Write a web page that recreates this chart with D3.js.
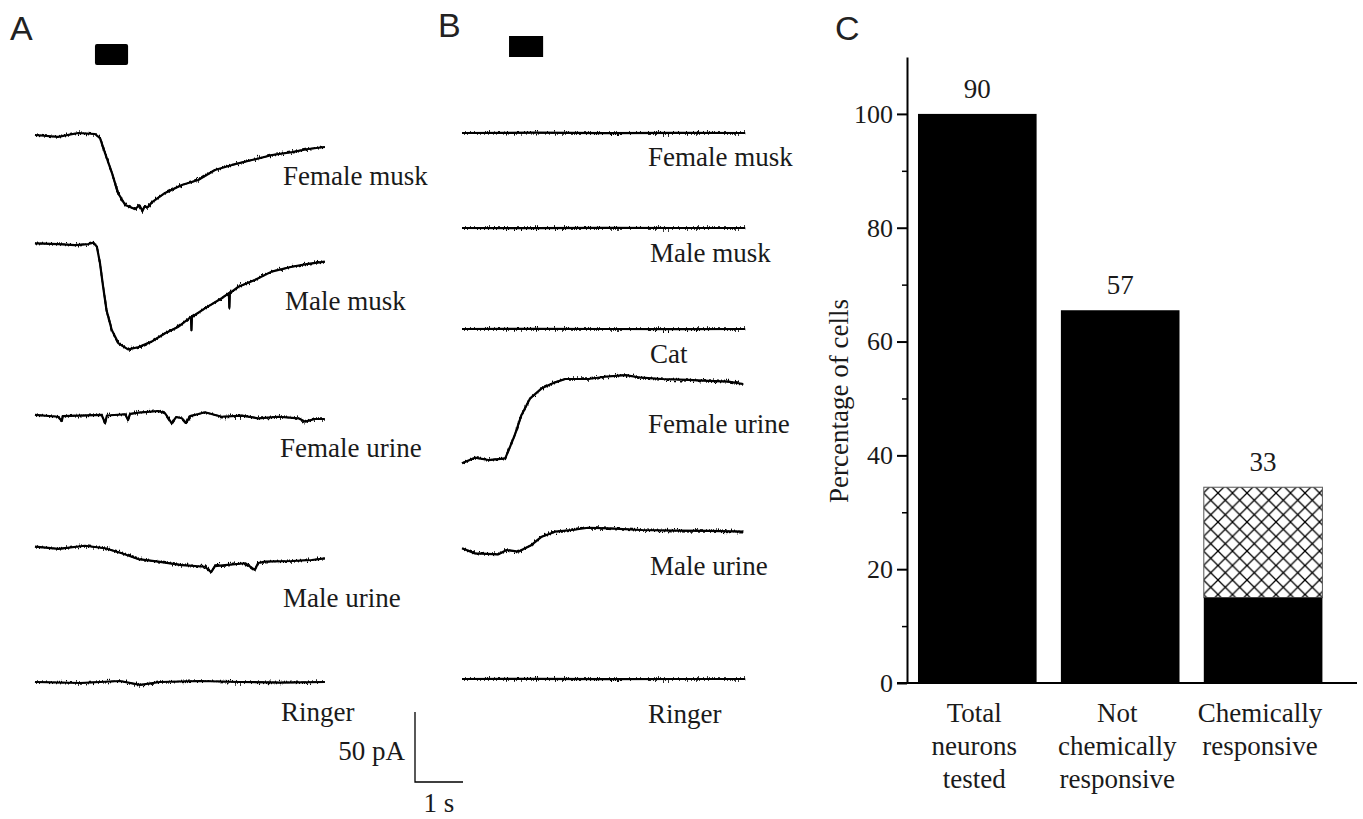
<!DOCTYPE html>
<html>
<head>
<meta charset="utf-8">
<script src="https://cdn.jsdelivr.net/npm/d3@7"></script>
<style>
  body { margin: 0; background: #fff; }
  text { font-family: "Liberation Serif", "Times New Roman", serif; fill: #1a1a1a; }
  .panel { font-family: "Liberation Sans", Arial, sans-serif; font-size: 34px; fill: #222; }
</style>
</head>
<body>
<svg id="fig" width="1363" height="819"></svg>
<script>
// ---- panel A traces: [time s, current pA] ----
var femaleMuskA = [[0.02,-0.7],[0.5,-2.1],[0.92,0.7],[1.27,0],[1.375,-2.9],[1.48,-13.6],[1.625,-27.9],[1.75,-42.1],[1.9,-50.7],[2.1,-53.6],[2.2,-51],[2.26,-55],[2.3,-52],[2.375,-52.1],[2.46,-48.6],[2.73,-42.1],[3.08,-36.4],[3.42,-32.9],[3.77,-25.7],[4.125,-22.1],[4.54,-18.6],[4.96,-15],[5.375,-12.9],[5.71,-10.7],[6.06,-9.3]];
var maleMuskA = [[0.02,0.1],[0.51,-0.4],[0.85,-1.1],[1.13,-0.4],[1.24,0.6],[1.31,-2.3],[1.375,-14.1],[1.44,-30.9],[1.51,-47.5],[1.62,-61.8],[1.76,-71.3],[1.96,-75.6],[2.17,-74.1],[2.45,-70.1],[2.73,-64.1],[3.01,-59.4],[3.27,-52.5],[3.28,-62],[3.29,-52.5],[3.56,-46.3],[3.91,-39.1],[4.06,-35.4],[4.07,-46],[4.08,-35.4],[4.26,-30.9],[4.6,-26.1],[4.95,-20.1],[5.37,-16.6],[5.71,-14.6],[6.06,-13]];
var femaleUrineA = [[0.02,0.4],[0.5,-0.9],[0.58,-3.9],[0.6,-0.4],[0.92,-0.1],[1.41,0.4],[1.48,-5.4],[1.52,0],[1.9,0.9],[1.96,-3.2],[2.0,1.1],[2.24,2.3],[2.59,3.2],[2.73,1.6],[2.87,-5.6],[2.96,-1.1],[3.08,-2.0],[3.17,-5.4],[3.25,-0.4],[3.35,0.4],[3.56,2.3],[3.91,-0.9],[4.33,-0.1],[4.67,-2.0],[5.09,-0.9],[5.51,-2.0],[5.65,-4.4],[5.85,-2.5],[6.06,-2.5]];
var maleUrineA = [[0.02,0.2],[0.51,-1.4],[1.06,0.9],[1.48,-0.9],[1.83,-4.5],[2.17,-8.6],[2.59,-10.5],[3.08,-12.9],[3.56,-14.1],[3.69,-17.9],[3.77,-13.6],[3.98,-12.9],[4.4,-11.6],[4.6,-16.4],[4.67,-11.4],[4.81,-10.5],[5.37,-10],[5.79,-9.3],[6.06,-8.1]];
var ringerA = [[0.02,0],[0.96,-0.7],[1.79,0.7],[2.21,-2.1],[2.625,0],[3.46,0.7],[4.29,0],[5.125,-0.4],[6.06,0]];

// ---- panel B traces ----
var femaleMuskB = [[0,0],[1.5,0.2],[3,-0.1],[4.5,0.1],[5.9,0]];
var maleMuskB = [[0,0],[1.5,-0.1],[3,0.1],[4.5,0],[5.9,0]];
var catB = [[0,0],[1.5,0.1],[3,0],[4.5,-0.1],[5.9,0]];
var femaleUrineB = [[0,-0.9],[0.27,3.1],[0.55,1.4],[0.9,2.6],[0.96,7.4],[1.1,19.3],[1.24,33.6],[1.42,45.5],[1.66,52.6],[1.94,56.9],[2.15,59.3],[2.63,59.3],[2.98,60.9],[3.4,62.1],[3.74,60.2],[4.16,59.3],[4.71,58.6],[5.13,57.9],[5.55,57.4],[5.86,55.7]];
var maleUrineB = [[0,1.2],[0.27,-2.4],[0.76,-3.1],[0.93,0],[1.17,-1.2],[1.45,3.6],[1.66,9.5],[1.94,13.1],[2.29,14.3],[2.63,15.9],[3.05,15.5],[3.74,14.3],[4.44,13.8],[5.13,13.6],[5.86,13.1]];
var ringerB = [[0,0],[1.5,0.1],[3,-0.1],[4.5,0],[5.9,0]];

var labelsA = ["Female musk", "Male musk", "Female urine", "Male urine", "Ringer"];
var labelsB = ["Female musk", "Male musk", "Cat", "Female urine", "Male urine", "Ringer"];
var stimA = [1.27, 1.96];   // s
var stimB = [0.98, 1.69];
var scaleBar = [1, 50];     // 1 s, 50 pA

// ---- panel C ----
var categories = ["Total\nneurons\ntested", "Not\nchemically\nresponsive", "Chemically\nresponsive"];
var cellCounts = [90, 57, 33];
var pctTotal = [100, 65.5, 34.4];
var pctSolid = [100, 65.5, 15];
var yTicks = [0, 20, 40, 60, 80, 100];
var yMinor = [10, 30, 50, 70, 90];

var svg = d3.select('#fig');

// recording noise texture (display only, data untouched)
var defs = svg.append('defs');
var f = defs.append('filter').attr('id', 'noise')
  .attr('filterUnits', 'userSpaceOnUse')
  .attr('x', -50).attr('y', -400).attr('width', 500).attr('height', 800)
  .attr('color-interpolation-filters', 'sRGB');
f.append('feTurbulence').attr('type', 'fractalNoise').attr('baseFrequency', '0.9 0.08')
  .attr('numOctaves', 2).attr('seed', 7).attr('result', 't');
f.append('feColorMatrix').attr('in', 't').attr('type', 'matrix')
  .attr('values', '0 0 0 0 0.5  1 0 0 0 0  0 0 0 0 0  0 0 0 0 1').attr('result', 'd');
f.append('feDisplacementMap').attr('in', 'SourceGraphic').attr('in2', 'd')
  .attr('scale', 8).attr('xChannelSelector', 'R').attr('yChannelSelector', 'G');

var hatch = defs.append('pattern').attr('id', 'hatch')
  .attr('patternUnits', 'userSpaceOnUse').attr('width', 14.5).attr('height', 14.5);
hatch.append('path').attr('d', 'M0,0L14.5,14.5M0,14.5L14.5,0')
  .attr('stroke', '#000').attr('stroke-width', 1.3);

// time / current scales shared by A and B (1 s = 48 px, 50 pA = 70 px)
var tx = d3.scaleLinear().domain([0, 1]).range([0, 48]);
var iy = d3.scaleLinear().domain([0, 50]).range([0, -70]);
var line = d3.line().x(function(d) { return tx(d[0]); }).y(function(d) { return iy(d[1]); });

function drawTraces(x0, rows, labels, labelPos) {
  rows.forEach(function(r, i) {
    var g = svg.append('g').attr('transform', 'translate(' + x0 + ',' + r.y + ')');
    g.append('path').datum(r.data).attr('d', line)
      .attr('fill', 'none').attr('stroke', '#000')
      .attr('stroke-width', 2.2).attr('stroke-linejoin', 'round');
    g.append('path').datum(r.data).attr('d', line)
      .attr('fill', 'none').attr('stroke', '#000')
      .attr('stroke-width', 1.6).attr('stroke-linejoin', 'round')
      .attr('filter', 'url(#noise)');
    svg.append('text').attr('x', labelPos[i][0]).attr('y', labelPos[i][1])
      .attr('font-size', 27).text(labels[i]);
  });
}

drawTraces(34, [
  { data: femaleMuskA, y: 134 },
  { data: maleMuskA, y: 243.5 },
  { data: femaleUrineA, y: 415.5 },
  { data: maleUrineA, y: 547 },
  { data: ringerA, y: 682 }
], labelsA, [[283, 185], [285, 310], [280, 457], [283, 607], [281, 721]]);

drawTraces(462, [
  { data: femaleMuskB, y: 133 },
  { data: maleMuskB, y: 228 },
  { data: catB, y: 329 },
  { data: femaleUrineB, y: 462 },
  { data: maleUrineB, y: 550 },
  { data: ringerB, y: 679 }
], labelsB, [[648, 166], [650, 262], [650, 363], [648, 433], [650, 575], [648, 723]]);

// stimulus bars
svg.append('rect').attr('x', 34 + tx(stimA[0])).attr('y', 44)
  .attr('width', tx(stimA[1]) - tx(stimA[0])).attr('height', 21).attr('rx', 2).attr('fill', '#000');
svg.append('rect').attr('x', 462 + tx(stimB[0])).attr('y', 36)
  .attr('width', tx(stimB[1]) - tx(stimB[0])).attr('height', 21).attr('fill', '#000');

// scale bar
var sb = svg.append('g').attr('transform', 'translate(415,782)');
sb.append('path')
  .attr('d', 'M0,' + iy(scaleBar[1]) + 'V0H' + tx(scaleBar[0]))
  .attr('fill', 'none').attr('stroke', '#000').attr('stroke-width', 1.3);
sb.append('text').attr('x', -10).attr('y', -22).attr('text-anchor', 'end')
  .attr('font-size', 27).text('50 pA');
sb.append('text').attr('x', tx(scaleBar[0]) / 2).attr('y', 30).attr('text-anchor', 'middle')
  .attr('font-size', 27).text('1 s');

// panel letters
svg.append('text').attr('class', 'panel').attr('x', 10).attr('y', 40).text('A');
svg.append('text').attr('class', 'panel').attr('x', 438).attr('y', 37).text('B');
svg.append('text').attr('class', 'panel').attr('x', 835).attr('y', 40).text('C');

// ---- panel C bar chart ----
var yC = d3.scaleLinear().domain([0, 110]).range([683, 57]);
var xC = d3.scaleBand().domain(categories).range([903.7, 1336.7])
  .paddingInner(0.17).paddingOuter(0.1);

var ax = svg.append('g').attr('transform', 'translate(907,0)')
  .call(d3.axisLeft(yC).tickValues(yTicks).tickSize(10).tickSizeOuter(0).tickPadding(4));
ax.attr('font-family', null).attr('font-size', null);
ax.select('.domain').attr('stroke-width', 2);
ax.selectAll('.tick line').attr('stroke-width', 2);
ax.selectAll('.tick text').attr('font-size', 26).attr('fill', '#1a1a1a');

var axm = svg.append('g').attr('transform', 'translate(907,0)')
  .call(d3.axisLeft(yC).tickValues(yMinor).tickSize(5).tickFormat(''));
axm.select('.domain').remove();
axm.selectAll('.tick line').attr('stroke-width', 1.5);

svg.append('line').attr('x1', 897).attr('x2', 1357)
  .attr('y1', yC(0)).attr('y2', yC(0)).attr('stroke', '#000').attr('stroke-width', 2);

categories.forEach(function(c, i) {
  var x = xC(c), w = xC.bandwidth();
  if (pctTotal[i] > pctSolid[i]) {
    svg.append('rect').attr('x', x).attr('y', yC(pctTotal[i]))
      .attr('width', w).attr('height', yC(pctSolid[i]) - yC(pctTotal[i]))
      .attr('fill', 'url(#hatch)').attr('stroke', '#555').attr('stroke-width', 1);
  }
  svg.append('rect').attr('x', x).attr('y', yC(pctSolid[i]))
    .attr('width', w).attr('height', yC(0) - yC(pctSolid[i])).attr('fill', '#000');
  svg.append('text').attr('x', x + w / 2).attr('y', yC(pctTotal[i]) - 16)
    .attr('text-anchor', 'middle').attr('font-size', 27).text(cellCounts[i]);
  var t = svg.append('text').attr('text-anchor', 'middle').attr('font-size', 27);
  c.split('\n').forEach(function(s, k) {
    t.append('tspan').attr('x', x + w / 2 - 3).attr('y', 722 + k * 33).text(s);
  });
});

svg.append('text').attr('transform', 'translate(848,401) rotate(-90)')
  .attr('text-anchor', 'middle').attr('font-size', 27).text('Percentage of cells');
</script>
</body>
</html>
